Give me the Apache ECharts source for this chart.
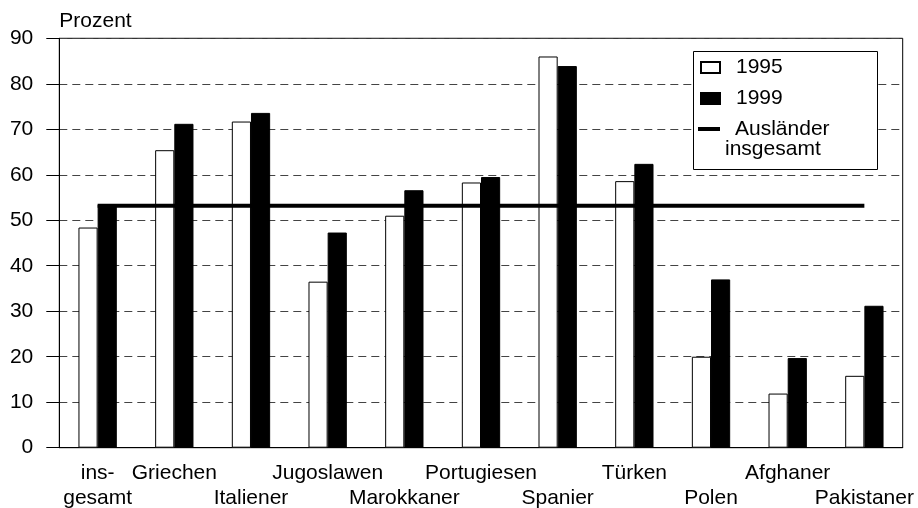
<!DOCTYPE html>
<html>
<head>
<meta charset="utf-8">
<script src="https://cdn.jsdelivr.net/npm/echarts@6/dist/echarts.min.js"></script>
<style>
  html, body { margin: 0; padding: 0; background: #fff; }
  #chart { width: 918px; height: 508px; }
</style>
</head>
<body>
<div id="chart"></div>
<script>
// Daten
var categories = ['insgesamt', 'Griechen', 'Italiener', 'Jugoslawen', 'Marokkaner', 'Portugiesen',
                  'Spanier', 'Türken', 'Polen', 'Afghaner', 'Pakistaner'];
var werte1995 = [48.4, 65.4, 71.7, 36.5, 51.0, 58.3, 86.0, 58.6, 20.0, 11.9, 15.8];
var werte1999 = [53.5, 71.2, 73.6, 47.3, 56.6, 59.5, 83.9, 62.4, 37.0, 19.7, 31.2];
var auslaenderInsgesamt = 53.2;
var yTicks = [0, 10, 20, 30, 40, 50, 60, 70, 80, 90];

var FONT = 'Liberation Sans, Arial, sans-serif';
var FS = 21;

var chart = echarts.init(document.getElementById('chart'));

var lineData = categories.map(function () { return auslaenderInsgesamt; });

var option = {
    animation: false,
    backgroundColor: '#fff',
    textStyle: { fontFamily: FONT, color: '#000' },
    grid: {
        left: 59.3, right: 15.3, top: 38.3, bottom: 60.3,
        outerBoundsMode: 'none',
        containLabel: false,
        show: true, borderColor: '#000', borderWidth: 1
    },
    xAxis: {
        type: 'category',
        data: categories,
        axisLine: { show: true, lineStyle: { color: '#000', width: 1 } },
        axisTick: { show: false },
        axisLabel: {
            interval: 0,
            margin: 13,
            fontSize: FS,
            lineHeight: 25,
            color: '#000',
            fontFamily: FONT,
            formatter: function (name, idx) {
                if (idx === 0) return 'ins-\ngesamt';
                if (idx % 2 === 1) return name;
                return '\n' + name;
            }
        }
    },
    yAxis: {
        type: 'value',
        min: yTicks[0],
        max: yTicks[yTicks.length - 1],
        interval: 10,
        name: 'Prozent',
        nameLocation: 'end',
        nameGap: 7,
        nameTextStyle: { align: 'left', fontSize: FS, color: '#000', fontFamily: FONT },
        axisLine: { show: true, lineStyle: { color: '#000', width: 1 } },
        axisTick: { show: true, inside: false, length: 13, lineStyle: { color: '#000' } },
        axisLabel: { margin: 26, fontSize: FS, color: '#000', fontFamily: FONT },
        splitLine: {
            show: true,
            lineStyle: { color: '#444', width: 1, type: [8, 5] }
        }
    },
    graphic: [{
        type: 'rect',
        z: 5,
        shape: { x: 693.5, y: 51.5, width: 184, height: 118 },
        style: { fill: '#fff', stroke: '#000', lineWidth: 1 }
    }],
    legend: [{
        z: 10,
        orient: 'vertical',
        left: 700,
        top: 57,
        padding: 0,
        itemGap: 10,
        itemWidth: 19,
        itemHeight: 11,
        icon: 'rect',
        data: ['1995', '1999'],
        textStyle: { fontSize: FS, lineHeight: 20, color: '#000', fontFamily: FONT, padding: [0, 0, 0, 11] }
    }, {
        z: 10,
        orient: 'vertical',
        left: 698,
        top: 99,
        padding: 0,
        itemWidth: 22,
        itemHeight: 4,
        icon: 'rect',
        data: ['Ausländer insgesamt'],
        formatter: function () {
            return '{a|Ausländer}\n{b|insgesamt}';
        },
        textStyle: {
            fontSize: FS, lineHeight: 20, color: '#000', fontFamily: FONT,
            padding: [20, 0, 0, 0],
            rich: {
                a: { fontSize: FS, lineHeight: 20, fontFamily: FONT, color: '#000', padding: [0, 0, 0, 10] },
                b: { fontSize: FS, lineHeight: 20, fontFamily: FONT, color: '#000' }
            }
        }
    }],
    series: [{
        name: '1995',
        type: 'bar',
        data: werte1995,
        barGap: '0%',
        barCategoryGap: '50%',
        itemStyle: { color: '#fff', borderColor: '#000', borderWidth: 1 }
    }, {
        name: '1999',
        type: 'bar',
        data: werte1999,
        barGap: '0%',
        barCategoryGap: '50%',
        itemStyle: { color: '#000', borderColor: '#000', borderWidth: 1 }
    }, {
        name: 'Ausländer insgesamt',
        type: 'line',
        data: lineData,
        symbol: 'none',
        z: 3,
        itemStyle: { color: '#000' },
        lineStyle: { color: '#000', width: 4 }
    }]
};

chart.setOption(option);
</script>
</body>
</html>
